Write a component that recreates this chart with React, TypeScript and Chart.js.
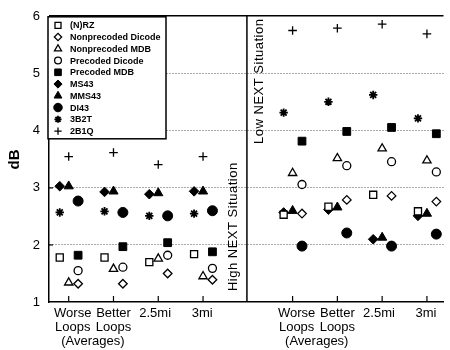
import React, { useEffect, useRef } from 'react';
import { Chart, registerables, PointElement } from 'chart.js';

Chart.register(...registerables);

// ---- data ----
const categories: (string | string[])[] = [['Worse', 'Loops'], ['Better', 'Loops'], '2.5mi', '3mi'];
const averagesNote = '(Averages)';
const panelTitles = ['High NEXT Situation', 'Low NEXT Situation'];
const yTickValues = [1, 2, 3, 4, 5, 6];
const yTitle = 'dB';

const seriesLabels = [
  '(N)RZ',
  'Nonprecoded Dicode',
  'Nonprecoded MDB',
  'Precoded Dicode',
  'Precoded MDB',
  'MS43',
  'MMS43',
  'DI43',
  '3B2T',
  '2B1Q',
];

// values in dB: High NEXT situation (left panel) and Low NEXT situation (right panel)
const nrzHigh = [1.78, 1.78, 1.70, 1.84];
const nrzLow = [2.53, 2.67, 2.88, 2.59];
const npDicodeHigh = [1.32, 1.32, 1.50, 1.39];
const npDicodeLow = [2.55, 2.79, 2.86, 2.76];
const npMdbHigh = [1.34, 1.58, 1.76, 1.45];
const npMdbLow = [3.26, 3.52, 3.69, 3.48];
const pDicodeHigh = [1.55, 1.61, 1.82, 1.59];
const pDicodeLow = [3.06, 3.39, 3.46, 3.28];
const pMdbHigh = [1.82, 1.97, 2.04, 1.88];
const pMdbLow = [3.82, 3.99, 4.06, 3.95];
const ms43High = [3.03, 2.93, 2.89, 2.94];
const ms43Low = [2.57, 2.62, 2.10, 2.51];
const mms43High = [3.03, 2.94, 2.91, 2.94];
const mms43Low = [2.60, 2.66, 2.13, 2.55];
const di43High = [2.77, 2.57, 2.51, 2.60];
const di43Low = [1.98, 2.21, 1.98, 2.19];
const t3b2tHigh = [2.57, 2.59, 2.51, 2.55];
const t3b2tLow = [4.32, 4.51, 4.63, 4.22];
const q2b1qHigh = [3.55, 3.62, 3.41, 3.55];
const q2b1qLow = [5.76, 5.80, 5.87, 5.70];

const seriesHigh = [nrzHigh, npDicodeHigh, npMdbHigh, pDicodeHigh, pMdbHigh, ms43High, mms43High, di43High, t3b2tHigh, q2b1qHigh];
const seriesLow = [nrzLow, npDicodeLow, npMdbLow, pDicodeLow, pMdbLow, ms43Low, mms43Low, di43Low, t3b2tLow, q2b1qLow];

// ---- layout / style ----
const highPos = [1, 2, 3, 4];
const lowPos = [6, 7, 8, 9];
const separatorX = 4.98;
const colOffset: Record<string, number> = { L: -0.2, M: 0, R: 0.21 };
const labelShift = [0.09, 0.0, -0.07, -0.02];
const averagesShift = 0.54;

type Mk = { style: string; filled: boolean; r: number; bw: number; col: string };
const markers: Mk[] = [
  { style: 'rect', filled: false, r: 5, bw: 1.3, col: 'L' },
  { style: 'rectRot', filled: false, r: 4.3, bw: 1.3, col: 'R' },
  { style: 'triangle', filled: false, r: 4.8, bw: 1.3, col: 'M' },
  { style: 'circle', filled: false, r: 4, bw: 1.3, col: 'R' },
  { style: 'rect', filled: true, r: 5.5, bw: 1, col: 'R' },
  { style: 'rectRot', filled: true, r: 4.8, bw: 1, col: 'L' },
  { style: 'triangle', filled: true, r: 5.3, bw: 1, col: 'M' },
  { style: 'circle', filled: true, r: 5, bw: 1, col: 'R' },
  { style: 'star', filled: true, r: 4.2, bw: 1.8, col: 'L' },
  { style: 'cross', filled: false, r: 4.3, bw: 1.3, col: 'M' },
];

const FONT = '"Liberation Sans", Arial, Helvetica, sans-serif';

type XT = { v: number; t: string | string[] };
const xTickDefs: XT[] = [];
[highPos, lowPos].forEach((pos) => {
  pos.forEach((p, i) => {
    xTickDefs.push({ v: p + labelShift[i], t: categories[i] });
    if (i === 0) xTickDefs.push({ v: p + averagesShift, t: ['', '', averagesNote] });
  });
});

export default function App() {
  const ref = useRef<HTMLCanvasElement>(null);

  useEffect(() => {
    const canvas = ref.current;
    if (!canvas) return;

    const datasets = seriesLabels.map((label, i) => {
      const m = markers[i];
      const off = colOffset[m.col];
      const data = [
        ...seriesHigh[i].map((v, j) => ({ x: highPos[j] + off, y: v })),
        ...seriesLow[i].map((v, j) => ({ x: lowPos[j] + off, y: v })),
      ];
      return {
        label,
        data,
        showLine: false,
        pointStyle: m.style as any,
        pointRadius: m.r,
        pointHoverRadius: m.r,
        pointBorderWidth: m.bw,
        pointBorderColor: '#000',
        pointBackgroundColor: m.filled ? '#000' : '#fff',
        clip: false as any,
      };
    });

    const decor = {
      id: 'decor',
      afterDraw(chart: any) {
        const ctx: CanvasRenderingContext2D = chart.ctx;
        const xs = chart.scales.x;
        const ys = chart.scales.y;
        const area = chart.chartArea;
        ctx.save();
        ctx.strokeStyle = '#000';
        // top border
        ctx.lineWidth = 1.5;
        ctx.beginPath();
        ctx.moveTo(area.left, area.top - 1);
        ctx.lineTo(area.right, area.top - 1);
        ctx.stroke();
        // separator
        const sx = xs.getPixelForValue(separatorX);
        ctx.beginPath();
        ctx.moveTo(sx, area.top - 1);
        ctx.lineTo(sx, area.bottom);
        ctx.stroke();
        // inward tick marks
        ctx.lineWidth = 1.2;
        [...highPos, ...lowPos].forEach((p) => {
          const px = xs.getPixelForValue(p);
          ctx.beginPath();
          ctx.moveTo(px, area.bottom);
          ctx.lineTo(px, area.bottom - 6);
          ctx.stroke();
        });
        yTickValues.slice(1, -1).forEach((v) => {
          const py = ys.getPixelForValue(v);
          ctx.beginPath();
          ctx.moveTo(area.left, py);
          ctx.lineTo(area.left + 4, py);
          ctx.stroke();
        });

        // legend box
        const lx = area.left - 1;
        const ly = area.top;
        const lw = 118;
        const lh = 122;
        ctx.fillStyle = '#fff';
        ctx.fillRect(lx, ly, lw, lh);
        ctx.lineWidth = 1.5;
        ctx.strokeRect(lx, ly, lw, lh);
        ctx.font = `bold 9px ${FONT}`;
        ctx.textBaseline = 'middle';
        ctx.textAlign = 'left';
        const bounds = { left: 0, top: 0, right: 10000, bottom: 10000 };
        seriesLabels.forEach((label, i) => {
          const m = markers[i];
          const ry = ly + 8.5 + i * 11.75;
          const pt: any = new (PointElement as any)({
            x: lx + 10,
            y: ry,
            options: {
              pointStyle: m.style,
              rotation: 0,
              radius: m.r * 0.85,
              borderWidth: m.bw,
              borderColor: '#000',
              backgroundColor: m.filled ? '#000' : '#fff',
            },
          });
          pt.draw(ctx, bounds);
          ctx.fillStyle = '#000';
          ctx.fillText(label, lx + 22, ry + 0.5);
        });

        // panel titles (vertical)
        ctx.font = `13px ${FONT}`;
        (ctx as any).letterSpacing = '0.5px';
        ctx.textAlign = 'center';
        ctx.textBaseline = 'middle';
        ctx.fillStyle = '#000';
        const drawV = (text: string, x: number, y: number) => {
          ctx.save();
          ctx.translate(x, y);
          ctx.rotate(-Math.PI / 2);
          ctx.fillText(text, 0, 0);
          ctx.restore();
        };
        drawV(panelTitles[0], sx - 13, ys.getPixelForValue(2.32));
        drawV(panelTitles[1], sx + 13, ys.getPixelForValue(4.87));
        ctx.restore();
      },
    };

    const chart = new Chart(canvas, {
      type: 'scatter',
      data: { datasets: datasets as any },
      options: {
        animation: false,
        responsive: true,
        maintainAspectRatio: false,
        devicePixelRatio: 1,
        layout: { padding: { top: 12, left: 0, right: 0, bottom: 0 } },
        plugins: { legend: { display: false }, tooltip: { enabled: false } },
        scales: {
          x: {
            type: 'linear',
            min: 0.56,
            max: 9.37,
            afterFit: (s: any) => {
              s.height = 48;
            },
            afterBuildTicks: (s: any) => {
              s.ticks = xTickDefs.map((d) => ({ value: d.v }));
            },
            ticks: {
              autoSkip: false,
              maxRotation: 0,
              minRotation: 0,
              padding: 4,
              color: '#000',
              font: { family: FONT, size: 13, lineHeight: 1.08 },
              callback: (_v: any, i: number) => xTickDefs[i].t as any,
            },
            grid: { display: false, drawTicks: false, tickLength: 0 },
            border: { display: true, color: '#000', width: 1.5 },
          },
          y: {
            type: 'linear',
            min: 1,
            max: 6,
            afterFit: (s: any) => {
              s.width = 49;
            },
            afterBuildTicks: (s: any) => {
              s.ticks = yTickValues.map((v) => ({ value: v }));
            },
            ticks: {
              padding: 9,
              color: '#000',
              font: { family: FONT, size: 13 },
              callback: (v: any) => String(v),
            },
            grid: {
              drawTicks: false,
              tickLength: 0,
              lineWidth: 1,
              color: (c: any) => (c.tick && (c.tick.value === 1 || c.tick.value === 6) ? 'rgba(0,0,0,0)' : '#555'),
            },
            border: { display: true, color: '#000', width: 1.5, dash: [1, 2] },
            title: {
              display: true,
              text: yTitle,
              color: '#000',
              font: { family: FONT, size: 15, weight: 'bold' },
              padding: { top: 6, bottom: 0 },
            },
          },
        },
      },
      plugins: [decor],
    });

    return () => chart.destroy();
  }, []);

  return (
    <div style={{ position: 'fixed', left: 0, top: 0, width: 450, height: 350, background: '#fff' }}>
      <canvas ref={ref} />
    </div>
  );
}
